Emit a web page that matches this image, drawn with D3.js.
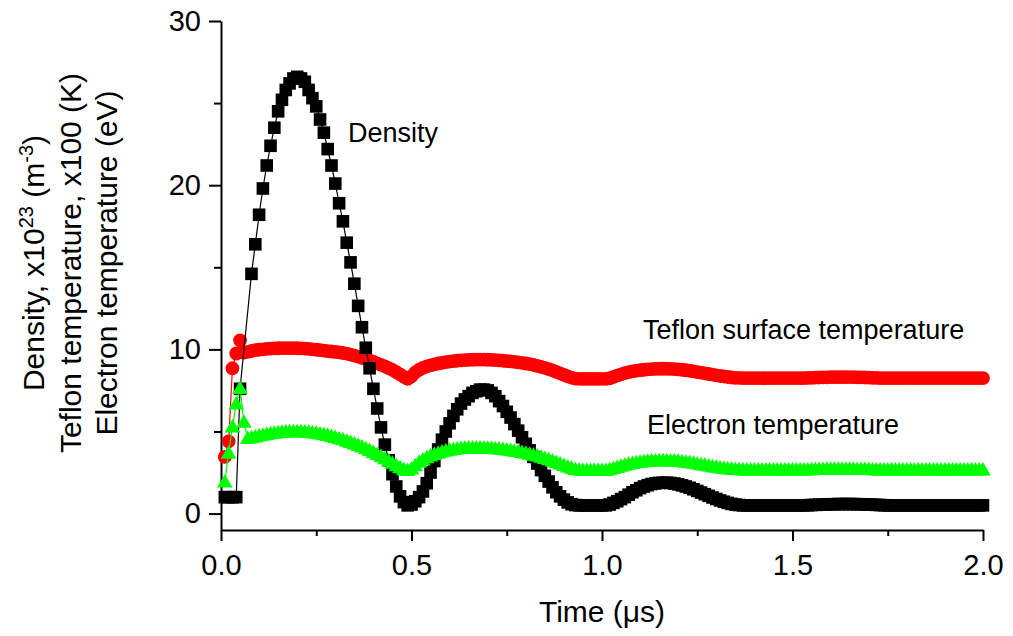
<!DOCTYPE html>
<html>
<head>
<meta charset="utf-8">
<script src="https://cdn.jsdelivr.net/npm/d3@7"></script>
<style>
  body { margin: 0; background: #fff; }
  text { font-family: "Liberation Sans", Arial, Helvetica, sans-serif; fill: #000; }
</style>
</head>
<body>
<svg id="chart" width="1013" height="636"></svg>
<script>
// Sampling interval of the simulation output, in microseconds
const step = 0.01;

// Plasma density, x10^23 m^-3 (null = no sample recorded)
const density = [
  1.0, 1.0, 1.0, 1.0, 7.6, null, null, 14.6, 16.4, 18.2,
  19.8, 21.2, 22.4, 23.5, 24.5, 25.2, 25.8, 26.2, 26.5, 26.6,
  26.5, 26.3, 25.8, 25.3, 24.8, 24.0, 23.2, 22.2, 21.2, 20.1,
  18.9, 17.8, 16.5, 15.3, 14.0, 12.65, 11.35, 10.1, 8.85, 7.6,
  6.4, 5.25, 4.2, 3.25, 2.4, 1.65, 1.05, 0.7, 0.5, 0.55,
  0.75, 1.0, 1.35, 1.85, 2.5, 3.2, 3.9, 4.5, 5.0, 5.5,
  5.95, 6.35, 6.7, 6.95, 7.15, 7.35, 7.45, 7.55, 7.55, 7.5,
  7.35, 7.15, 6.85, 6.55, 6.2, 5.85, 5.45, 5.05, 4.65, 4.25,
  3.85, 3.45, 3.05, 2.65, 2.3, 1.95, 1.6, 1.3, 1.05, 0.85,
  0.68, 0.57, 0.52, 0.5, 0.5, 0.5, 0.5, 0.5, 0.5, 0.5,
  0.5, 0.55, 0.65, 0.75, 0.88, 1.0, 1.15, 1.3, 1.42, 1.55,
  1.65, 1.73, 1.8, 1.84, 1.87, 1.88, 1.88, 1.86, 1.83, 1.78,
  1.72, 1.65, 1.57, 1.48, 1.38, 1.28, 1.18, 1.08, 0.98, 0.89,
  0.8, 0.72, 0.65, 0.59, 0.55, 0.52, 0.5, 0.5, 0.5, 0.5,
  0.5, 0.5, 0.5, 0.5, 0.5, 0.5, 0.5, 0.5, 0.5, 0.5,
  0.5, 0.5, 0.5, 0.51, 0.52, 0.53, 0.54, 0.55, 0.56, 0.57,
  0.57, 0.58, 0.58, 0.58, 0.58, 0.58, 0.57, 0.57, 0.56, 0.55,
  0.54, 0.53, 0.52, 0.51, 0.5, 0.5, 0.5, 0.5, 0.5, 0.5,
  0.5, 0.5, 0.5, 0.5, 0.5, 0.5, 0.5, 0.5, 0.5, 0.5,
  0.5, 0.5, 0.5, 0.5, 0.5, 0.5, 0.5, 0.5, 0.5, 0.5
];

// Teflon surface temperature, x100 K
const teflonTemp = [
  3.45, 4.4, 8.85, 9.75, 10.55, 9.8, 9.85, 9.9, 9.95, 9.98,
  10.0, 10.03, 10.05, 10.06, 10.07, 10.08, 10.08, 10.08, 10.08, 10.07,
  10.06, 10.05, 10.03, 10.0, 9.98, 9.95, 9.92, 9.89, 9.87, 9.85,
  9.82, 9.78, 9.74, 9.68, 9.62, 9.56, 9.49, 9.41, 9.33, 9.24,
  9.15, 9.06, 8.96, 8.86, 8.75, 8.62, 8.48, 8.32, 8.2, 8.35,
  8.6, 8.76, 8.87, 8.96, 9.03, 9.09, 9.14, 9.18, 9.22, 9.26,
  9.29, 9.31, 9.33, 9.35, 9.36, 9.37, 9.38, 9.38, 9.38, 9.37,
  9.36, 9.35, 9.33, 9.31, 9.29, 9.27, 9.24, 9.21, 9.18, 9.14,
  9.1, 9.05, 9.0, 8.94, 8.87, 8.8, 8.72, 8.63, 8.54, 8.45,
  8.36, 8.28, 8.22, 8.2, 8.2, 8.2, 8.2, 8.2, 8.2, 8.2,
  8.2, 8.24, 8.32, 8.4, 8.48, 8.55, 8.61, 8.66, 8.7, 8.73,
  8.76, 8.78, 8.8, 8.81, 8.82, 8.82, 8.82, 8.81, 8.8, 8.78,
  8.76, 8.73, 8.7, 8.66, 8.62, 8.58, 8.54, 8.5, 8.46, 8.42,
  8.38, 8.35, 8.32, 8.29, 8.27, 8.26, 8.25, 8.25, 8.25, 8.25,
  8.25, 8.25, 8.25, 8.25, 8.25, 8.25, 8.25, 8.25, 8.25, 8.25,
  8.25, 8.25, 8.25, 8.26, 8.27, 8.28, 8.29, 8.3, 8.3, 8.31,
  8.31, 8.31, 8.31, 8.31, 8.31, 8.31, 8.3, 8.3, 8.29, 8.28,
  8.27, 8.26, 8.25, 8.25, 8.25, 8.25, 8.25, 8.25, 8.25, 8.25,
  8.25, 8.25, 8.25, 8.25, 8.25, 8.25, 8.25, 8.25, 8.25, 8.25,
  8.25, 8.25, 8.25, 8.25, 8.25, 8.25, 8.25, 8.25, 8.25, 8.25
];

// Electron temperature, eV
const electronTemp = [
  1.95, 3.7, 5.3, 6.7, 7.65, 5.6, 4.6, 4.65, 4.7, 4.75,
  4.8, 4.85, 4.9, 4.93, 4.96, 4.98, 5.0, 5.01, 5.02, 5.02,
  5.01, 5.0, 4.98, 4.95, 4.92, 4.88, 4.83, 4.78, 4.72, 4.66,
  4.59, 4.52, 4.44, 4.36, 4.27, 4.18, 4.08, 3.98, 3.87, 3.75,
  3.63, 3.5, 3.37, 3.23, 3.09, 2.95, 2.82, 2.7, 2.65, 2.75,
  2.95, 3.15, 3.3, 3.43, 3.54, 3.63, 3.71, 3.78, 3.84, 3.89,
  3.93, 3.96, 3.99, 4.01, 4.02, 4.03, 4.03, 4.03, 4.02, 4.01,
  4.0, 3.98, 3.96, 3.93, 3.9, 3.87, 3.83, 3.79, 3.75, 3.7,
  3.65, 3.59, 3.53, 3.46, 3.39, 3.31, 3.23, 3.14, 3.05, 2.96,
  2.87, 2.79, 2.72, 2.68, 2.66, 2.66, 2.66, 2.66, 2.66, 2.66,
  2.66, 2.7, 2.77, 2.84, 2.91, 2.97, 3.03, 3.08, 3.12, 3.16,
  3.19, 3.21, 3.23, 3.24, 3.25, 3.25, 3.25, 3.24, 3.23, 3.21,
  3.19, 3.16, 3.13, 3.09, 3.05, 3.01, 2.97, 2.93, 2.89, 2.85,
  2.81, 2.78, 2.75, 2.73, 2.71, 2.7, 2.69, 2.68, 2.68, 2.68,
  2.68, 2.68, 2.68, 2.68, 2.68, 2.68, 2.68, 2.68, 2.68, 2.68,
  2.68, 2.68, 2.68, 2.69, 2.7, 2.71, 2.72, 2.72, 2.73, 2.73,
  2.73, 2.73, 2.73, 2.73, 2.73, 2.73, 2.72, 2.72, 2.71, 2.71,
  2.7, 2.69, 2.68, 2.68, 2.68, 2.68, 2.68, 2.68, 2.68, 2.68,
  2.68, 2.68, 2.68, 2.68, 2.68, 2.68, 2.68, 2.68, 2.68, 2.68,
  2.68, 2.68, 2.68, 2.68, 2.68, 2.68, 2.68, 2.68, 2.68, 2.68
];

const xTicks = [0, 0.5, 1.0, 1.5, 2.0];
const xMinorTicks = [0.25, 0.75, 1.25, 1.75];
const yTicks = [0, 10, 20, 30];
const yMinorTicks = [5, 15, 25];

const svg = d3.select("#chart");

const x = d3.scaleLinear().domain([0, 2]).range([221, 983]);
const y = d3.scaleLinear().domain([-1, 30]).range([530, 21]);

const toPoints = vals => vals
  .map((v, i) => ({ t: (i + 1) * step, v }))
  .filter(d => d.v !== null);

// ---- axes ----
const fontTick = 29;

svg.append("g").attr("transform", `translate(0,${y.range()[0]})`)
  .call(d3.axisBottom(x).tickValues(xTicks).tickFormat(d3.format(".1f"))
    .tickSize(11).tickSizeOuter(0).tickPadding(13));
svg.append("g").attr("transform", `translate(0,${y.range()[0]})`)
  .call(d3.axisBottom(x).tickValues(xMinorTicks).tickFormat("")
    .tickSize(6).tickSizeOuter(0))
  .select(".domain").remove();

svg.append("g").attr("transform", `translate(${x.range()[0]},0)`)
  .call(d3.axisLeft(y).tickValues(yTicks).tickFormat(d3.format("d"))
    .tickSize(12).tickSizeOuter(0).tickPadding(8));
svg.append("g").attr("transform", `translate(${x.range()[0]},0)`)
  .call(d3.axisLeft(y).tickValues(yMinorTicks).tickFormat("")
    .tickSize(7).tickSizeOuter(0))
  .select(".domain").remove();

svg.selectAll(".domain, .tick line").attr("stroke", "#000").attr("stroke-width", 2);
svg.selectAll(".tick text")
  .style("font-family", "'Liberation Sans', Arial, sans-serif")
  .attr("font-size", fontTick).attr("fill", "#000");

// ---- series ----
const line = d3.line().x(d => x(d.t)).y(d => y(d.v));

function drawSeries(vals, color, shape) {
  const pts = toPoints(vals);
  const g = svg.append("g");
  g.append("path").datum(pts).attr("d", line)
    .attr("fill", "none").attr("stroke", color).attr("stroke-width", 1.2);
  const sym = g.selectAll("path.m").data(pts).join("path").attr("class", "m")
    .attr("transform", d => `translate(${x(d.t)},${y(d.v)})`)
    .attr("fill", color);
  if (shape === "square") sym.attr("d", "M-6.3,-6.3H6.3V6.3H-6.3Z");
  if (shape === "circle") sym.attr("d", d3.symbol(d3.symbolCircle, 150)());
  if (shape === "triangle") sym.attr("d", "M0,-7.5L7.8,6L-7.8,6Z");
}

drawSeries(teflonTemp, "#ff0000", "circle");
drawSeries(density, "#000000", "square");
drawSeries(electronTemp, "#00ff00", "triangle");

// ---- annotations ----
const fontNote = 27;
svg.append("text").attr("x", 348).attr("y", 142).attr("font-size", fontNote).text("Density");
svg.append("text").attr("x", 643).attr("y", 339).attr("font-size", fontNote).text("Teflon surface temperature");
svg.append("text").attr("x", 647).attr("y", 434).attr("font-size", fontNote).text("Electron temperature");

// ---- axis titles ----
svg.append("text").attr("x", 602).attr("y", 622).attr("text-anchor", "middle")
  .attr("font-size", 30).text("Time (μs)");

const fontTitle = 30;
const yTitle = svg.append("g").attr("transform", "translate(0,263) rotate(-90)");
const l1 = yTitle.append("text").attr("x", 0).attr("y", 44).attr("text-anchor", "middle").attr("font-size", fontTitle);
l1.append("tspan").text("Density, x10");
l1.append("tspan").attr("dy", -11).attr("font-size", 20).text("23");
l1.append("tspan").attr("dy", 11).text(" (m");
l1.append("tspan").attr("dy", -11).attr("font-size", 20).text("-3");
l1.append("tspan").attr("dy", 11).text(")");
yTitle.append("text").attr("x", 0).attr("y", 81).attr("text-anchor", "middle").attr("font-size", fontTitle)
  .text("Teflon temperature, x100 (K)");
yTitle.append("text").attr("x", 0).attr("y", 117).attr("text-anchor", "middle").attr("font-size", fontTitle)
  .text("Electron temperature (eV)");
</script>
</body>
</html>
